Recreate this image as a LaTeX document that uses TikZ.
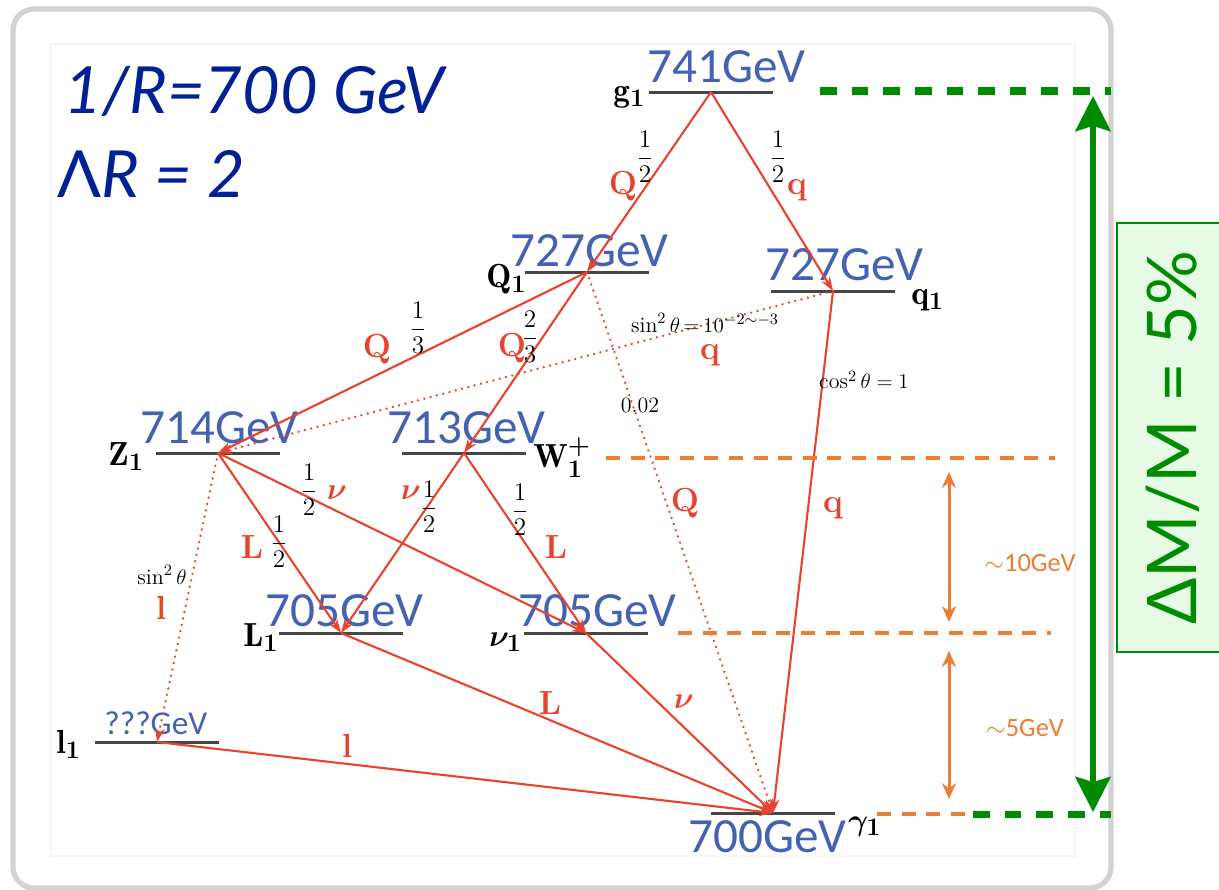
\documentclass[tikz,border=0pt]{standalone}
\usepackage{amsmath}
\usepackage{fontspec}
\usetikzlibrary{arrows.meta}
\newfontfamily\gevfont{Carlito}
\newfontfamily\gillfont{Lato}
\definecolor{ttlblue}{RGB}{0,32,150}
\definecolor{gevblue}{RGB}{68,98,178}
\definecolor{decred}{RGB}{232,67,46}
\definecolor{bargray}{RGB}{70,70,70}
\definecolor{org}{RGB}{237,125,49}
\definecolor{grn}{RGB}{0,140,0}
\definecolor{grnfill}{RGB}{230,250,230}

\begin{document}
\begin{tikzpicture}[x=0.02cm,y=-0.02cm,
  lvl/.style={fill=bargray,inner sep=0pt,outer sep=0pt,minimum height=3*0.02cm,minimum width=124*0.02cm},
  gev/.style={text=gevblue,font=\gevfont\fontsize{28}{30}\selectfont,inner sep=0pt,anchor=base west},
  pname/.style={font=\fontsize{19}{21}\selectfont\boldmath,inner sep=0pt,anchor=base west},
  dec/.style={draw=decred,line width=1.2pt,-{Stealth[open,length=8pt,width=5.5pt]}},
  decdot/.style={dec,line width=1.4pt,line cap=round,dash pattern=on 0.1pt off 3.6pt},
  prod/.style={text=decred,font=\fontsize{19}{21}\selectfont\bfseries\boldmath,inner sep=0pt},
  frac/.style={font=\fontsize{14}{16}\selectfont,inner sep=0pt},
  note/.style={font=\fontsize{12.5}{14}\selectfont,inner sep=0pt},
  ttl/.style={text=ttlblue,font=\gillfont\fontsize{37}{40}\selectfont,inner sep=0pt,anchor=base west},
  orgdash/.style={draw=org,line width=2.5pt,dash pattern=on 8pt off 6pt},
  orgarr/.style={draw=org,line width=1.7pt,{Stealth[length=9pt,width=8pt]}-{Stealth[length=9pt,width=8pt]}},
  olab/.style={text=org,font=\gevfont\fontsize{15}{17}\selectfont,inner sep=0pt},
  grndash/.style={draw=grn,line width=4pt,dash pattern=on 9.5pt off 8.5pt}]
\useasboundingbox (0,0) rectangle (1219,889);
\fill[white] (0,0) rectangle (1219,889);
% frame
\draw[gray!35,line width=3pt,rounded corners=12pt] (13,9) rectangle (1111,888);
\draw[gray!8,line width=0.6pt] (51,44) rectangle (1075,856);
% title
\node[ttl] (t1) at (64,113) {\itshape 1/R=700 GeV};
\node[ttl] (t2) at (57,197) {Λ\itshape R = 2};
% levels
\node[lvl] (g1) at (711,92) {};
\node[lvl] (Q1) at (587,272) {};
\node[lvl] (q1) at (833,291) {};
\node[lvl] (Z1) at (218,453) {};
\node[lvl] (W1) at (464,453) {};
\node[lvl] (L1) at (341,633) {};
\node[lvl] (nu1) at (586,633) {};
\node[lvl] (l1) at (157,742) {};
\node[lvl] (gam1) at (773,813) {};
\node[gev] (m741) at (647,82) {741GeV};
\node[gev] (m727a) at (510,266) {727GeV};
\node[gev] (m727b) at (765,280) {727GeV};
\node[gev] (m714) at (140,443) {714GeV};
\node[gev] (m713) at (387,443) {713GeV};
\node[gev] (m705a) at (265,626) {705GeV};
\node[gev] (m705b) at (518,626) {705GeV};
\node[gev,font=\gevfont\fontsize{19}{21}\selectfont] (mqqq) at (104,734) {???GeV};
\node[gev] (m700) at (688,852) {700GeV};
\node[pname] (ng1) at (613,101) {$\mathrm{g}_1$};
\node[pname] (nQ1) at (486,287) {$\mathrm{Q}_1$};
\node[pname] (nq1) at (911,304) {$\mathrm{q}_1$};
\node[pname] (nZ1) at (108,465) {$\mathrm{Z}_1$};
\node[pname] (nW1) at (533,467) {$\mathrm{W}_1^+$};
\node[pname] (nL1) at (243,646) {$\mathrm{L}_1$};
\node[pname] (nnu1) at (489,646) {$\nu_1$};
\node[pname] (nl1) at (56,753) {$\mathrm{l}_1$};
\node[pname] (ngam1) at (848,830) {$\gamma_1$};
% decays
\foreach \a/\b in {g1/Q1,g1/q1,Q1/Z1,Q1/W1,q1/gam1,Z1/L1,Z1/nu1,W1/L1,W1/nu1,L1/gam1,nu1/gam1,l1/gam1}
  \draw[dec] (\a.center) -- (\b.center);
\foreach \a/\b in {Q1/gam1,q1/Z1,Z1/l1}
  \draw[decdot] (\a.center) -- (\b.center);
% branching labels
\node[frac] (f1) at (645,157) {$\dfrac{1}{2}$};
\node[prod] (p1) at (623,186) {Q};
\node[frac] (f2) at (778,157) {$\dfrac{1}{2}$};
\node[prod] (p2) at (797,190) {q};
\node[prod] (p3) at (377,349) {Q};
\node[frac] (f3) at (418,328) {$\dfrac{1}{3}$};
\node[prod] (p4) at (512,348) {Q};
\node[frac] (f4) at (530,337) {$\dfrac{2}{3}$};
\node[note] (n1) at (640,405) {0.02};
\node[prod] (p5) at (685,503) {Q};
\node[note] (n2) at (705,323) {$\sin^2\theta\,{=}\,10^{-2\sim-3}$};
\node[prod] (p6) at (710,355) {q};
\node[note] (n3) at (864,380) {$\cos^2\theta=1$};
\node[prod] (p7) at (833,508) {q};
\node[prod] (p8) at (252,547) {L};
\node[frac] (f5) at (279,542) {$\dfrac{1}{2}$};
\node[frac] (f6) at (309,490) {$\dfrac{1}{2}$};
\node[prod] (p9) at (337,493) {$\nu$};
\node[note] (n4) at (162,575) {$\sin^2\theta$};
\node[prod] (p10) at (161,608) {l};
\node[prod] (p11) at (411,493) {$\nu$};
\node[frac] (f7) at (429,507) {$\dfrac{1}{2}$};
\node[frac] (f8) at (520,510) {$\dfrac{1}{2}$};
\node[prod] (p12) at (556,547) {L};
\node[prod] (p13) at (550,703) {L};
\node[prod] (p14) at (684,702) {$\nu$};
\node[prod] (p15) at (347,746) {l};
% mass splittings
\draw[orgdash] (606,458) -- (1055,458);
\draw[orgdash] (678,633) -- (1051,633);
\draw[orgdash] (877,814) -- (1000,814);
\coordinate (a1) at (949,472); \coordinate (a2) at (949,622);
\coordinate (a3) at (949,651); \coordinate (a4) at (949,799);
\draw[orgarr] (a1) -- (a2);
\draw[orgarr] (a3) -- (a4);
\node[olab] (s10) at (1030,563) {$\sim$10GeV};
\node[olab] (s5) at (1025,728) {$\sim$5GeV};
\draw[grndash] (820,91) -- (1111,91);
\draw[grndash] (973,814) -- (1111,814);
\coordinate (gtop) at (1093,96); \coordinate (gbot) at (1093,812);
\draw[grn,line width=3.4pt,{Stealth[length=20pt,width=20pt,inset=3pt]}-{Stealth[length=20pt,width=20pt,inset=3pt]}] (gtop) -- (gbot);
\node[draw=grn,fill=grnfill,line width=1.1pt,rotate=90,minimum width=429*0.02cm,minimum height=112*0.02cm,text=grn,font=\gillfont\fontsize{39}{40}\selectfont] (dm) at (1173,437.5) {ΔM/M = 5\%};
\end{tikzpicture}
\end{document}
